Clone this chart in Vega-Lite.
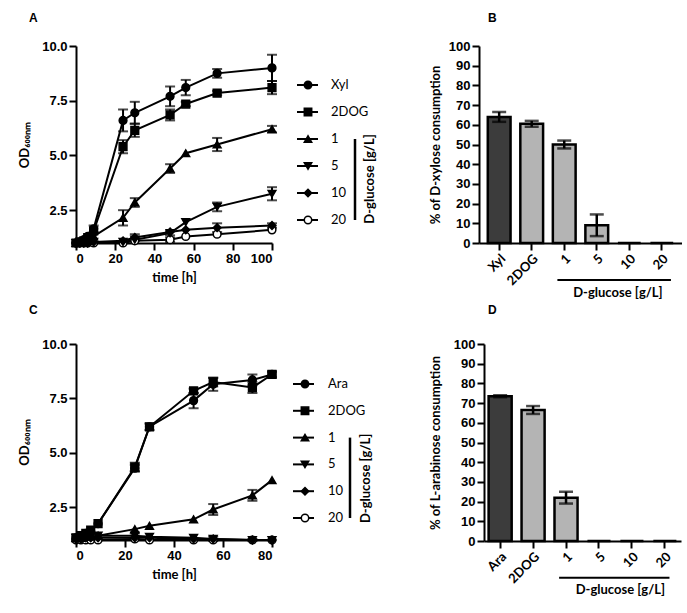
{
  "$schema": "https://vega.github.io/schema/vega-lite/v6.json",
  "background": "white",
  "padding": {"left": 18, "top": 12, "right": 0, "bottom": 0},
  "datasets": {
    "growthA": [
      {"t": 0, "series": "20", "od": 1.0, "err": 0}, {"t": 2, "series": "20", "od": 1.0, "err": 0}, {"t": 4, "series": "20", "od": 1.0, "err": 0}, {"t": 6, "series": "20", "od": 1.0, "err": 0}, {"t": 9, "series": "20", "od": 1.0, "err": 0}, {"t": 24, "series": "20", "od": 1.0, "err": 0}, {"t": 30, "series": "20", "od": 1.1, "err": 0}, {"t": 48, "series": "20", "od": 1.15, "err": 0.1}, {"t": 56, "series": "20", "od": 1.3, "err": 0}, {"t": 72, "series": "20", "od": 1.4, "err": 0}, {"t": 100, "series": "20", "od": 1.6, "err": 0},
      {"t": 0, "series": "10", "od": 1.0, "err": 0}, {"t": 2, "series": "10", "od": 1.0, "err": 0}, {"t": 4, "series": "10", "od": 1.0, "err": 0}, {"t": 6, "series": "10", "od": 1.0, "err": 0}, {"t": 9, "series": "10", "od": 1.05, "err": 0}, {"t": 24, "series": "10", "od": 1.1, "err": 0}, {"t": 30, "series": "10", "od": 1.25, "err": 0.15}, {"t": 48, "series": "10", "od": 1.5, "err": 0}, {"t": 56, "series": "10", "od": 1.6, "err": 0}, {"t": 72, "series": "10", "od": 1.7, "err": 0.2}, {"t": 100, "series": "10", "od": 1.8, "err": 0.1},
      {"t": 0, "series": "5", "od": 1.0, "err": 0}, {"t": 2, "series": "5", "od": 1.0, "err": 0}, {"t": 4, "series": "5", "od": 1.0, "err": 0}, {"t": 6, "series": "5", "od": 1.0, "err": 0}, {"t": 9, "series": "5", "od": 1.05, "err": 0}, {"t": 24, "series": "5", "od": 1.05, "err": 0}, {"t": 30, "series": "5", "od": 1.15, "err": 0}, {"t": 48, "series": "5", "od": 1.45, "err": 0.1}, {"t": 56, "series": "5", "od": 1.95, "err": 0}, {"t": 72, "series": "5", "od": 2.65, "err": 0.2}, {"t": 100, "series": "5", "od": 3.25, "err": 0.3},
      {"t": 0, "series": "1", "od": 1.0, "err": 0}, {"t": 2, "series": "1", "od": 1.0, "err": 0}, {"t": 4, "series": "1", "od": 1.05, "err": 0}, {"t": 6, "series": "1", "od": 1.1, "err": 0}, {"t": 9, "series": "1", "od": 1.3, "err": 0}, {"t": 24, "series": "1", "od": 2.15, "err": 0.35}, {"t": 30, "series": "1", "od": 2.85, "err": 0.2}, {"t": 48, "series": "1", "od": 4.4, "err": 0.2}, {"t": 56, "series": "1", "od": 5.1, "err": 0}, {"t": 72, "series": "1", "od": 5.5, "err": 0.3}, {"t": 100, "series": "1", "od": 6.2, "err": 0.15},
      {"t": 0, "series": "2DOG", "od": 1.0, "err": 0}, {"t": 2, "series": "2DOG", "od": 1.05, "err": 0}, {"t": 4, "series": "2DOG", "od": 1.1, "err": 0}, {"t": 6, "series": "2DOG", "od": 1.25, "err": 0}, {"t": 9, "series": "2DOG", "od": 1.55, "err": 0}, {"t": 24, "series": "2DOG", "od": 5.4, "err": 0.3}, {"t": 30, "series": "2DOG", "od": 6.15, "err": 0.3}, {"t": 48, "series": "2DOG", "od": 6.85, "err": 0.25}, {"t": 56, "series": "2DOG", "od": 7.35, "err": 0.1}, {"t": 72, "series": "2DOG", "od": 7.85, "err": 0.1}, {"t": 100, "series": "2DOG", "od": 8.1, "err": 0.3},
      {"t": 0, "series": "Xyl", "od": 1.0, "err": 0}, {"t": 2, "series": "Xyl", "od": 1.05, "err": 0}, {"t": 4, "series": "Xyl", "od": 1.15, "err": 0}, {"t": 6, "series": "Xyl", "od": 1.3, "err": 0}, {"t": 9, "series": "Xyl", "od": 1.65, "err": 0.15}, {"t": 24, "series": "Xyl", "od": 6.6, "err": 0.5}, {"t": 30, "series": "Xyl", "od": 6.95, "err": 0.5}, {"t": 48, "series": "Xyl", "od": 7.7, "err": 0.45}, {"t": 56, "series": "Xyl", "od": 8.1, "err": 0.35}, {"t": 72, "series": "Xyl", "od": 8.75, "err": 0.2}, {"t": 100, "series": "Xyl", "od": 9.0, "err": 0.6}
    ],
    "growthC": [
      {"t": 0, "series": "20", "od": 1.0, "err": 0}, {"t": 2, "series": "20", "od": 1.0, "err": 0}, {"t": 4, "series": "20", "od": 1.0, "err": 0}, {"t": 6, "series": "20", "od": 1.0, "err": 0}, {"t": 9, "series": "20", "od": 1.0, "err": 0}, {"t": 24, "series": "20", "od": 1.05, "err": 0}, {"t": 30, "series": "20", "od": 1.0, "err": 0}, {"t": 48, "series": "20", "od": 1.0, "err": 0}, {"t": 56, "series": "20", "od": 1.0, "err": 0}, {"t": 72, "series": "20", "od": 1.0, "err": 0}, {"t": 80, "series": "20", "od": 1.0, "err": 0},
      {"t": 0, "series": "10", "od": 1.05, "err": 0}, {"t": 2, "series": "10", "od": 1.05, "err": 0}, {"t": 4, "series": "10", "od": 1.1, "err": 0}, {"t": 6, "series": "10", "od": 1.1, "err": 0}, {"t": 9, "series": "10", "od": 1.1, "err": 0}, {"t": 24, "series": "10", "od": 1.1, "err": 0}, {"t": 30, "series": "10", "od": 1.1, "err": 0}, {"t": 48, "series": "10", "od": 1.05, "err": 0}, {"t": 56, "series": "10", "od": 1.05, "err": 0}, {"t": 72, "series": "10", "od": 1.0, "err": 0}, {"t": 80, "series": "10", "od": 1.0, "err": 0},
      {"t": 0, "series": "5", "od": 1.1, "err": 0}, {"t": 2, "series": "5", "od": 1.1, "err": 0}, {"t": 4, "series": "5", "od": 1.15, "err": 0}, {"t": 6, "series": "5", "od": 1.15, "err": 0}, {"t": 9, "series": "5", "od": 1.2, "err": 0}, {"t": 24, "series": "5", "od": 1.2, "err": 0.1}, {"t": 30, "series": "5", "od": 1.15, "err": 0}, {"t": 48, "series": "5", "od": 1.1, "err": 0}, {"t": 56, "series": "5", "od": 1.05, "err": 0.1}, {"t": 72, "series": "5", "od": 1.0, "err": 0.05}, {"t": 80, "series": "5", "od": 1.0, "err": 0},
      {"t": 0, "series": "1", "od": 1.1, "err": 0}, {"t": 2, "series": "1", "od": 1.1, "err": 0}, {"t": 4, "series": "1", "od": 1.15, "err": 0}, {"t": 6, "series": "1", "od": 1.15, "err": 0}, {"t": 9, "series": "1", "od": 1.2, "err": 0}, {"t": 24, "series": "1", "od": 1.5, "err": 0}, {"t": 30, "series": "1", "od": 1.65, "err": 0}, {"t": 48, "series": "1", "od": 1.95, "err": 0}, {"t": 56, "series": "1", "od": 2.4, "err": 0.25}, {"t": 72, "series": "1", "od": 3.05, "err": 0.25}, {"t": 80, "series": "1", "od": 3.75, "err": 0},
      {"t": 0, "series": "2DOG", "od": 1.1, "err": 0}, {"t": 2, "series": "2DOG", "od": 1.2, "err": 0}, {"t": 4, "series": "2DOG", "od": 1.3, "err": 0}, {"t": 6, "series": "2DOG", "od": 1.45, "err": 0}, {"t": 9, "series": "2DOG", "od": 1.75, "err": 0}, {"t": 24, "series": "2DOG", "od": 4.35, "err": 0.2}, {"t": 30, "series": "2DOG", "od": 6.2, "err": 0}, {"t": 48, "series": "2DOG", "od": 7.85, "err": 0.1}, {"t": 56, "series": "2DOG", "od": 8.25, "err": 0.2}, {"t": 72, "series": "2DOG", "od": 8.0, "err": 0.25}, {"t": 80, "series": "2DOG", "od": 8.6, "err": 0.15},
      {"t": 0, "series": "Ara", "od": 1.1, "err": 0}, {"t": 2, "series": "Ara", "od": 1.2, "err": 0}, {"t": 4, "series": "Ara", "od": 1.3, "err": 0}, {"t": 6, "series": "Ara", "od": 1.4, "err": 0}, {"t": 9, "series": "Ara", "od": 1.75, "err": 0}, {"t": 24, "series": "Ara", "od": 4.3, "err": 0.15}, {"t": 30, "series": "Ara", "od": 6.2, "err": 0.15}, {"t": 48, "series": "Ara", "od": 7.4, "err": 0.35}, {"t": 56, "series": "Ara", "od": 8.15, "err": 0.3}, {"t": 72, "series": "Ara", "od": 8.35, "err": 0.25}, {"t": 80, "series": "Ara", "od": 8.6, "err": 0.1}
    ],
    "consB": [
      {"cond": "Xyl", "pct": 64, "err": 2.5}, {"cond": "2DOG", "pct": 60.5, "err": 1.5}, {"cond": "1", "pct": 50, "err": 2}, {"cond": "5", "pct": 9, "err": 5.5}, {"cond": "10", "pct": 0, "err": 0}, {"cond": "20", "pct": 0, "err": 0}
    ],
    "consD": [
      {"cond": "Ara", "pct": 73.5, "err": 0.5}, {"cond": "2DOG", "pct": 66.5, "err": 2}, {"cond": "1", "pct": 22, "err": 3}, {"cond": "5", "pct": 0, "err": 0}, {"cond": "10", "pct": 0, "err": 0}, {"cond": "20", "pct": 0, "err": 0}
    ],
    "keyA": [{"series": "Xyl"}, {"series": "2DOG"}, {"series": "1"}, {"series": "5"}, {"series": "10"}, {"series": "20"}],
    "keyC": [{"series": "Ara"}, {"series": "2DOG"}, {"series": "1"}, {"series": "5"}, {"series": "10"}, {"series": "20"}],
    "glucose": [{"from": "1", "to": "20", "at": "5", "mid": "10", "label": "D-glucose [g/L]"}]
  },
  "config": {
    "view": {"stroke": null},
    "font": "Lato",
    "axis": {
      "domainColor": "black", "domainWidth": 2, "tickColor": "black", "tickWidth": 2, "tickSize": 7,
      "labelFont": "Liberation Sans", "labelFontWeight": "bold", "labelFontSize": 13, "labelColor": "black", "labelPadding": 2,
      "titleFont": "Lato", "titleFontWeight": "bold", "titleFontSize": 13, "titleColor": "black", "grid": false
    },
    "title": {"font": "Liberation Sans", "fontSize": 12, "fontWeight": "bold", "anchor": "start", "frame": "group", "color": "black"}
  },
  "spacing": 3,
  "vconcat": [
    {
      "spacing": 10,
      "hconcat": [
        {
          "title": {"text": "A", "dx": -47, "offset": 15},
          "width": 196, "height": 197,
          "data": {"name": "growthA"},
          "encoding": {
            "x": {"field": "t", "type": "quantitative", "scale": {"domain": [0, 100]}, "axis": {"values": [0, 20, 40, 60, 80, 100], "title": "time [h]", "titlePadding": 6}},
            "y": {"field": "od", "type": "quantitative", "scale": {"domain": [1, 10], "zero": false}, "axis": {"values": [2.5, 5, 7.5, 10], "format": ".1f", "title": "OD₆₀₀ₙₘ", "titlePadding": 10}}
          },
          "layer": [
            {"mark": {"type": "line", "color": "black", "strokeWidth": 2}, "encoding": {"detail": {"field": "series"}}},
            {"transform": [{"filter": "datum.err > 0"}], "mark": {"type": "errorbar", "color": "black", "thickness": 2, "ticks": {"size": 10, "thickness": 2}}, "encoding": {"yError": {"field": "err"}}},
            {
              "mark": {"type": "point", "filled": true, "size": 60, "stroke": "black", "strokeWidth": 1.5, "opacity": 1},
              "encoding": {
                "shape": {"field": "series", "scale": {"domain": ["Xyl", "2DOG", "1", "5", "10", "20"], "range": ["circle", "square", "triangle-up", "triangle-down", "diamond", "circle"]}, "legend": null},
                "fill": {"condition": {"test": "datum.series === '20'", "value": "white"}, "value": "black"}
              }
            }
          ]
        },
        {
          "width": 130, "height": 197,
          "layer": [
            {"data": {"name": "keyA"}, "mark": {"type": "rule", "color": "black", "strokeWidth": 2},
             "encoding": {"x": {"datum": 8, "type": "quantitative", "scale": {"domain": [0, 130]}, "axis": null}, "x2": {"datum": 29},
                          "y": {"field": "series", "type": "ordinal", "scale": {"type": "point", "padding": 0, "domain": ["Xyl", "2DOG", "1", "5", "10", "20"], "range": [39, 174]}, "axis": null}}},
            {"data": {"name": "keyA"}, "mark": {"type": "point", "filled": true, "size": 55, "stroke": "black", "strokeWidth": 1.5, "opacity": 1},
             "encoding": {"x": {"datum": 19, "type": "quantitative"}, "y": {"field": "series", "type": "ordinal"},
                          "shape": {"field": "series", "scale": {"domain": ["Xyl", "2DOG", "1", "5", "10", "20"], "range": ["circle", "square", "triangle-up", "triangle-down", "diamond", "circle"]}, "legend": null},
                          "fill": {"condition": {"test": "datum.series === '20'", "value": "white"}, "value": "black"}}},
            {"data": {"name": "keyA"}, "mark": {"type": "text", "align": "left", "baseline": "middle", "font": "Lato", "fontSize": 13, "color": "black"},
             "encoding": {"x": {"datum": 42, "type": "quantitative"}, "y": {"field": "series", "type": "ordinal"}, "text": {"field": "series"}}},
            {"data": {"name": "glucose"}, "mark": {"type": "rule", "color": "black", "strokeWidth": 2.5},
             "encoding": {"x": {"datum": 66, "type": "quantitative"}, "y": {"field": "from", "type": "ordinal"}, "y2": {"field": "to"}}},
            {"data": {"name": "glucose"}, "mark": {"type": "text", "angle": 270, "align": "center", "baseline": "middle", "font": "Lato", "fontWeight": "bold", "fontSize": 13, "color": "black", "yOffset": 13},
             "encoding": {"x": {"datum": 81, "type": "quantitative"}, "y": {"field": "at", "type": "ordinal"}, "text": {"field": "label"}}}
          ]
        },
        {
          "title": {"text": "B", "dx": 9, "offset": 15},
          "width": 203, "height": 197,
          "resolve": {"scale": {"y": "independent"}, "axis": {"y": "independent"}},
          "layer": [
            {
              "data": {"name": "consB"},
              "encoding": {
                "x": {"field": "cond", "type": "nominal", "scale": {"domain": ["Xyl", "2DOG", "1", "5", "10", "20"], "paddingInner": 0.3, "paddingOuter": 0.27}, "axis": {"labelAngle": -45, "title": null, "labelFont": "Lato", "labelFontSize": 13}},
                "y": {"field": "pct", "type": "quantitative", "scale": {"domain": [0, 100]}, "axis": {"values": [0, 10, 20, 30, 40, 50, 60, 70, 80, 90, 100], "title": "% of D-xylose consumption", "titlePadding": 6}}
              },
              "layer": [
                {"mark": {"type": "bar", "stroke": "black", "strokeWidth": 2.5},
                 "encoding": {"fill": {"condition": {"test": "datum.cond === 'Xyl'", "value": "#3c3c3c"}, "value": "#b4b4b4"}}},
                {"transform": [{"filter": "datum.err > 0"}], "mark": {"type": "errorbar", "color": "black", "thickness": 2.5, "ticks": {"size": 14, "thickness": 2.5}},
                 "encoding": {"yError": {"field": "err"}}}
              ]
            },
            {"data": {"name": "glucose"}, "mark": {"type": "rule", "color": "black", "strokeWidth": 2},
             "encoding": {"x": {"field": "from", "type": "nominal", "bandPosition": 0.2, "title": null}, "x2": {"field": "to", "bandPosition": 0.9}, "y": {"datum": -18.8, "type": "quantitative", "scale": {"domain": [0, 100]}, "axis": null}}},
            {"data": {"name": "glucose"}, "mark": {"type": "text", "font": "Lato", "fontWeight": "bold", "fontSize": 13, "color": "black", "align": "center", "baseline": "middle"},
             "encoding": {"x": {"field": "mid", "type": "nominal", "bandPosition": 0, "title": null}, "y": {"datum": -25.4, "type": "quantitative", "scale": {"domain": [0, 100]}, "axis": null}, "text": {"field": "label"}}}
          ]
        }
      ]
    },
    {
      "spacing": 10,
      "hconcat": [
        {
          "title": {"text": "C", "dx": -47, "offset": 21},
          "width": 196, "height": 196,
          "data": {"name": "growthC"},
          "encoding": {
            "x": {"field": "t", "type": "quantitative", "scale": {"domain": [0, 80]}, "axis": {"values": [0, 20, 40, 60, 80], "title": "time [h]", "titlePadding": 6}},
            "y": {"field": "od", "type": "quantitative", "scale": {"domain": [1, 10], "zero": false}, "axis": {"values": [2.5, 5, 7.5, 10], "format": ".1f", "title": "OD₆₀₀ₙₘ", "titlePadding": 10}}
          },
          "layer": [
            {"mark": {"type": "line", "color": "black", "strokeWidth": 2}, "encoding": {"detail": {"field": "series"}}},
            {"transform": [{"filter": "datum.err > 0"}], "mark": {"type": "errorbar", "color": "black", "thickness": 2, "ticks": {"size": 10, "thickness": 2}}, "encoding": {"yError": {"field": "err"}}},
            {
              "mark": {"type": "point", "filled": true, "size": 60, "stroke": "black", "strokeWidth": 1.5, "opacity": 1},
              "encoding": {
                "shape": {"field": "series", "scale": {"domain": ["Ara", "2DOG", "1", "5", "10", "20"], "range": ["circle", "square", "triangle-up", "triangle-down", "diamond", "circle"]}, "legend": null},
                "fill": {"condition": {"test": "datum.series === '20'", "value": "white"}, "value": "black"}
              }
            }
          ]
        },
        {
          "width": 130, "height": 196,
          "layer": [
            {"data": {"name": "keyC"}, "mark": {"type": "rule", "color": "black", "strokeWidth": 2},
             "encoding": {"x": {"datum": 4, "type": "quantitative", "scale": {"domain": [0, 130]}, "axis": null}, "x2": {"datum": 25},
                          "y": {"field": "series", "type": "ordinal", "scale": {"type": "point", "padding": 0, "domain": ["Ara", "2DOG", "1", "5", "10", "20"], "range": [40, 174]}, "axis": null}}},
            {"data": {"name": "keyC"}, "mark": {"type": "point", "filled": true, "size": 55, "stroke": "black", "strokeWidth": 1.5, "opacity": 1},
             "encoding": {"x": {"datum": 16, "type": "quantitative"}, "y": {"field": "series", "type": "ordinal"},
                          "shape": {"field": "series", "scale": {"domain": ["Ara", "2DOG", "1", "5", "10", "20"], "range": ["circle", "square", "triangle-up", "triangle-down", "diamond", "circle"]}, "legend": null},
                          "fill": {"condition": {"test": "datum.series === '20'", "value": "white"}, "value": "black"}}},
            {"data": {"name": "keyC"}, "mark": {"type": "text", "align": "left", "baseline": "middle", "font": "Lato", "fontSize": 13, "color": "black"},
             "encoding": {"x": {"datum": 39, "type": "quantitative"}, "y": {"field": "series", "type": "ordinal"}, "text": {"field": "series"}}},
            {"data": {"name": "glucose"}, "mark": {"type": "rule", "color": "black", "strokeWidth": 2.5},
             "encoding": {"x": {"datum": 61, "type": "quantitative"}, "y": {"field": "from", "type": "ordinal"}, "y2": {"field": "to"}}},
            {"data": {"name": "glucose"}, "mark": {"type": "text", "angle": 270, "align": "center", "baseline": "middle", "font": "Lato", "fontWeight": "bold", "fontSize": 13, "color": "black", "yOffset": 14},
             "encoding": {"x": {"datum": 77, "type": "quantitative"}, "y": {"field": "at", "type": "ordinal"}, "text": {"field": "label"}}}
          ]
        },
        {
          "title": {"text": "D", "dx": 4, "offset": 21},
          "width": 197, "height": 197,
          "resolve": {"scale": {"y": "independent"}, "axis": {"y": "independent"}},
          "layer": [
            {
              "data": {"name": "consD"},
              "encoding": {
                "x": {"field": "cond", "type": "nominal", "scale": {"domain": ["Ara", "2DOG", "1", "5", "10", "20"], "paddingInner": 0.3, "paddingOuter": 0.14}, "axis": {"labelAngle": -45, "title": null, "labelFont": "Lato", "labelFontSize": 13}},
                "y": {"field": "pct", "type": "quantitative", "scale": {"domain": [0, 100]}, "axis": {"values": [0, 10, 20, 30, 40, 50, 60, 70, 80, 90, 100], "title": "% of L-arabinose consumption", "titlePadding": 11}}
              },
              "layer": [
                {"mark": {"type": "bar", "stroke": "black", "strokeWidth": 2.5},
                 "encoding": {"fill": {"condition": {"test": "datum.cond === 'Ara'", "value": "#3c3c3c"}, "value": "#b4b4b4"}}},
                {"transform": [{"filter": "datum.err > 0"}], "mark": {"type": "errorbar", "color": "black", "thickness": 2.5, "ticks": {"size": 14, "thickness": 2.5}},
                 "encoding": {"yError": {"field": "err"}}}
              ]
            },
            {"data": {"name": "glucose"}, "mark": {"type": "rule", "color": "black", "strokeWidth": 2},
             "encoding": {"x": {"field": "from", "type": "nominal", "bandPosition": 0.2, "title": null}, "x2": {"field": "to", "bandPosition": 0.7}, "y": {"datum": -18.7, "type": "quantitative", "scale": {"domain": [0, 100]}, "axis": null}}},
            {"data": {"name": "glucose"}, "mark": {"type": "text", "font": "Lato", "fontWeight": "bold", "fontSize": 13, "color": "black", "align": "center", "baseline": "middle"},
             "encoding": {"x": {"field": "mid", "type": "nominal", "bandPosition": 0, "title": null}, "y": {"datum": -24.9, "type": "quantitative", "scale": {"domain": [0, 100]}, "axis": null}, "text": {"field": "label"}}}
          ]
        }
      ]
    }
  ]
}
